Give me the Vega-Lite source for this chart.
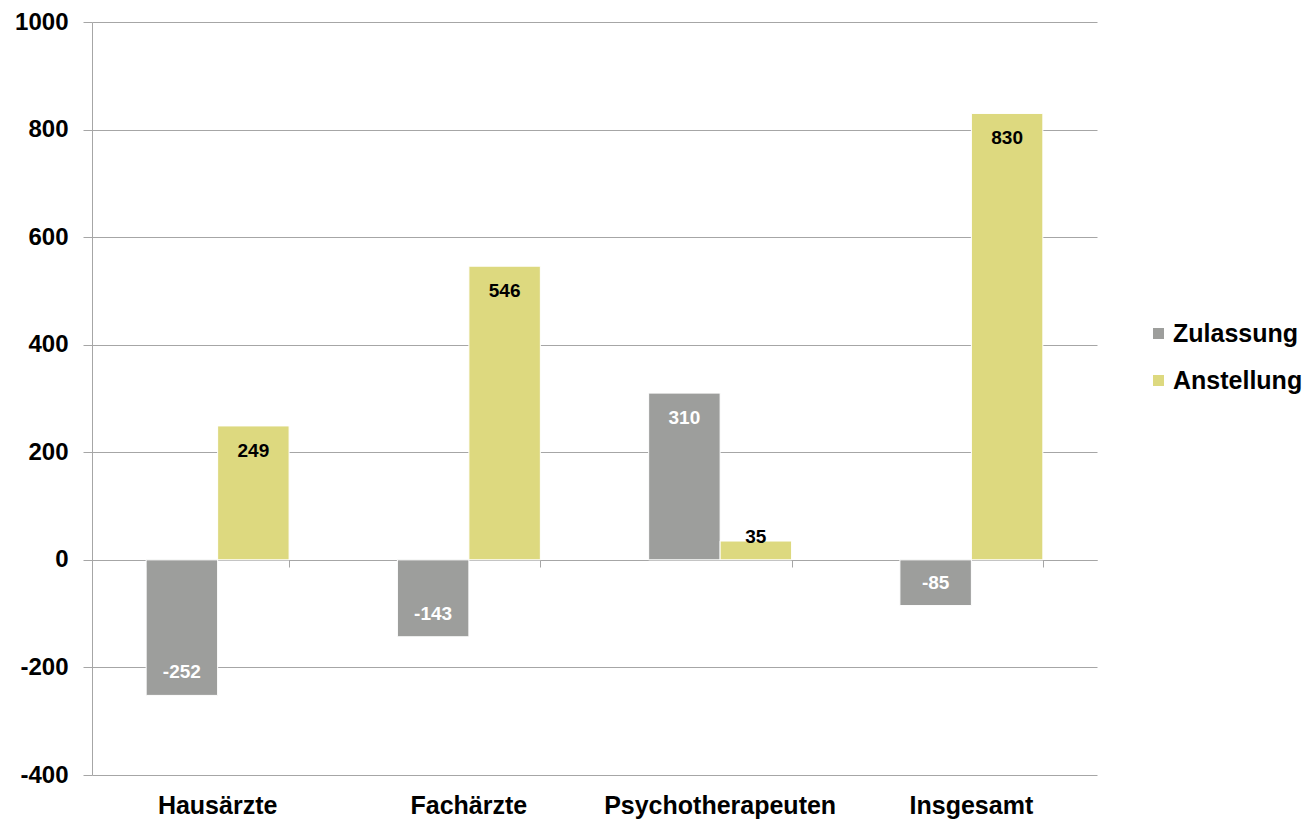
{
  "$schema": "https://vega.github.io/schema/vega-lite/v6.json",
  "width": 1005,
  "height": 753,
  "autosize": {"type": "none"},
  "padding": {"left": 92, "top": 22, "right": 211, "bottom": 47},
  "background": "white",
  "config": {"view": {"stroke": null}, "font": "Liberation Sans"},
  "data": {
    "values": [
      {"category": "Hausärzte", "series": "Zulassung", "value": -252},
      {"category": "Hausärzte", "series": "Anstellung", "value": 249},
      {"category": "Fachärzte", "series": "Zulassung", "value": -143},
      {"category": "Fachärzte", "series": "Anstellung", "value": 546},
      {"category": "Psychotherapeuten", "series": "Zulassung", "value": 310},
      {"category": "Psychotherapeuten", "series": "Anstellung", "value": 35},
      {"category": "Insgesamt", "series": "Zulassung", "value": -85},
      {"category": "Insgesamt", "series": "Anstellung", "value": 830}
    ]
  },
  "encoding": {
    "xOffset": {"field": "series", "type": "nominal", "sort": ["Zulassung", "Anstellung"], "scale": {"paddingInner": 0, "paddingOuter": 0}},
    "y": {
      "field": "value",
      "type": "quantitative",
      "scale": {"domain": [-400, 1000], "nice": false, "zero": false},
      "axis": {
        "title": null,
        "values": [-400, -200, 0, 200, 400, 600, 800, 1000],
        "labelExpr": "'' + datum.value",
        "grid": true,
        "gridColor": "#A6A6A6",
        "gridWidth": 1,
        "domainColor": "#A6A6A6",
        "tickColor": "#A6A6A6",
        "tickSize": 9,
        "labelFontSize": 24,
        "labelFontWeight": "bold",
        "labelColor": "black",
        "labelPadding": 15,
        "labelFont": "Liberation Sans"
      }
    }
  },
  "layer": [
    {
      "mark": {"type": "bar", "stroke": "white", "strokeWidth": 1},
      "encoding": {
        "x": {
          "field": "category", "type": "nominal",
          "sort": ["Hausärzte", "Fachärzte", "Psychotherapeuten", "Insgesamt"],
          "scale": {"paddingInner": 0.431, "paddingOuter": 0.2155},
          "axis": {
            "title": null, "orient": "bottom", "domain": false, "ticks": false, "grid": false,
            "labelAngle": 0, "labelFontSize": 25, "labelFontWeight": "bold", "labelColor": "black",
            "labelPadding": 18, "labelFont": "Liberation Sans", "labelLimit": 0
          }
        },
        "color": {
          "field": "series", "type": "nominal",
          "scale": {"domain": ["Zulassung", "Anstellung"], "range": ["#9D9E9C", "#DDD97F"]},
          "legend": {
            "title": null, "orient": "none", "legendX": 1054, "legendY": 299,
            "symbolType": "square", "symbolSize": 121, "symbolStrokeWidth": 0,
            "labelFontSize": 25, "labelFontWeight": "bold", "labelColor": "black",
            "labelFont": "Liberation Sans", "labelOffset": 2, "rowPadding": 21, "padding": 0, "labelLimit": 0
          }
        }
      }
    },
    {
      "transform": [{"filter": "datum.value >= 100"}],
      "mark": {"type": "text", "dy": 25, "baseline": "middle", "fontSize": 19, "fontWeight": "bold", "font": "Liberation Sans"},
      "encoding": {
        "x": {
          "field": "category", "type": "nominal",
          "sort": ["Hausärzte", "Fachärzte", "Psychotherapeuten", "Insgesamt"],
          "axis": {
            "title": null, "orient": "bottom", "offset": -215, "labels": false, "grid": false,
            "domain": true, "domainColor": "#A6A6A6", "ticks": true, "tickBand": "extent",
            "tickColor": "#A6A6A6", "tickSize": 7
          }
        },
        "text": {"field": "value", "type": "nominal"},
        "color": {"condition": {"test": "datum.series === 'Zulassung'", "value": "white"}, "value": "black"}
      }
    },
    {
      "transform": [{"filter": "datum.value < 0"}],
      "mark": {"type": "text", "dy": -23, "baseline": "middle", "fontSize": 19, "fontWeight": "bold", "font": "Liberation Sans"},
      "encoding": {
        "x": {"field": "category", "type": "nominal", "sort": ["Hausärzte", "Fachärzte", "Psychotherapeuten", "Insgesamt"], "axis": null},
        "text": {"field": "value", "type": "nominal"},
        "color": {"condition": {"test": "datum.series === 'Zulassung'", "value": "white"}, "value": "black"}
      }
    },
    {
      "transform": [{"filter": "datum.value >= 0 && datum.value < 100"}],
      "mark": {"type": "text", "dy": -4, "baseline": "middle", "fontSize": 19, "fontWeight": "bold", "font": "Liberation Sans"},
      "encoding": {
        "x": {"field": "category", "type": "nominal", "sort": ["Hausärzte", "Fachärzte", "Psychotherapeuten", "Insgesamt"], "axis": null},
        "text": {"field": "value", "type": "nominal"},
        "color": {"condition": {"test": "datum.series === 'Zulassung'", "value": "white"}, "value": "black"}
      }
    }
  ],
  "resolve": {"axis": {"x": "independent"}}
}
